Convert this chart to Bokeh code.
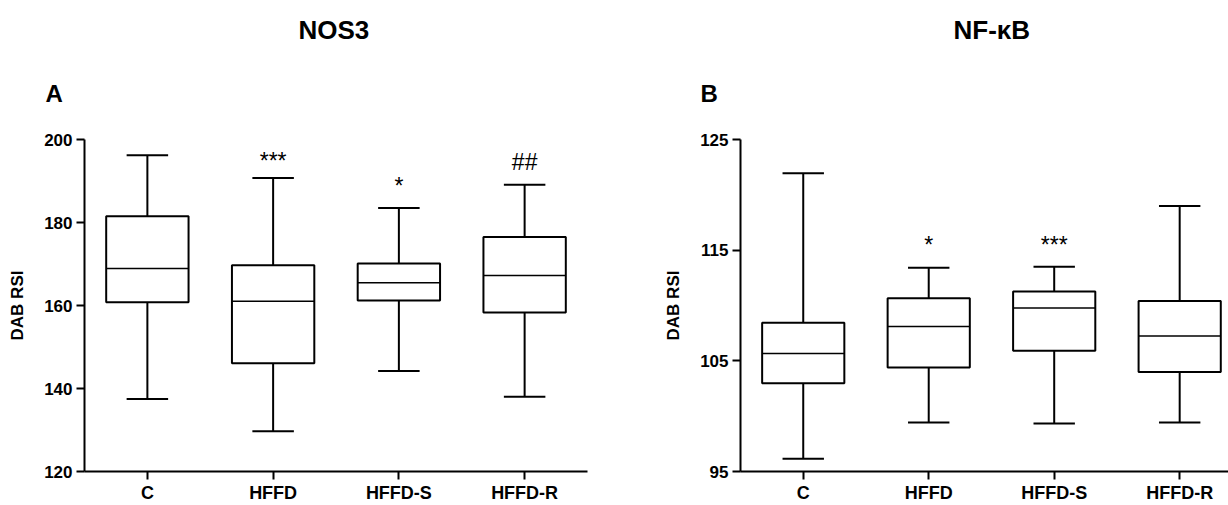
from bokeh.plotting import figure
from bokeh.models import Range1d, FixedTicker, Title, ColumnDataSource
from bokeh.layouts import row
from bokeh.embed import file_html
from bokeh.resources import INLINE
from bokeh.core.properties import value

groups = ["C", "HFFD", "HFFD-S", "HFFD-R"]

# NOS3 (panel A)
nos3_min = [137.5, 129.7, 144.2, 138.0]
nos3_q1 = [160.8, 146.1, 161.2, 158.3]
nos3_med = [168.9, 161.0, 165.5, 167.2]
nos3_q3 = [181.5, 169.7, 170.1, 176.5]
nos3_max = [196.2, 190.7, 183.5, 189.1]
nos3_sig = ["", "***", "*", "##"]
nos3_sig_y = [0, 194.7, 188.7, 194.5]
nos3_ticks = [120, 140, 160, 180, 200]

# NF-kB (panel B)
nfkb_min = [96.15, 99.42, 99.33, 99.42]
nfkb_q1 = [102.97, 104.4, 105.9, 104.0]
nfkb_med = [105.67, 108.1, 109.77, 107.25]
nfkb_q3 = [108.45, 110.66, 111.27, 110.4]
nfkb_max = [121.95, 113.4, 113.5, 119.0]
nfkb_sig = ["", "*", "***", ""]
nfkb_sig_y = [0, 115.45, 115.5, 0]
nfkb_ticks = [95, 105, 115, 125]

FONT = "Liberation Sans"
BOX_W = 0.655
CAP_W = 0.33


def panel(title, letter, mins, q1, med, q3, maxs, sig, sig_y, ticks,
          width, border_left, border_right, x_end, title_off, letter_off):
    p = figure(width=width, height=505, output_backend="svg", toolbar_location=None,
               x_range=Range1d(0.5, x_end), y_range=Range1d(ticks[0], ticks[-1]),
               min_border_left=border_left, min_border_right=border_right,
               min_border_top=139, min_border_bottom=32)
    p.outline_line_color = None
    p.grid.visible = False
    p.background_fill_color = "white"
    p.border_fill_color = "white"

    xs = [i + 1 for i in range(len(groups))]
    src = ColumnDataSource(dict(
        x=xs, mn=mins, q1=q1, med=med, q3=q3, mx=maxs,
        bl=[x - BOX_W / 2 for x in xs], br=[x + BOX_W / 2 for x in xs],
        cl=[x - CAP_W / 2 for x in xs], cr=[x + CAP_W / 2 for x in xs],
    ))
    p.segment("x", "q3", "x", "mx", source=src, line_color="black", line_width=2)
    p.segment("x", "mn", "x", "q1", source=src, line_color="black", line_width=2)
    p.segment("cl", "mx", "cr", "mx", source=src, line_color="black", line_width=2)
    p.segment("cl", "mn", "cr", "mn", source=src, line_color="black", line_width=2)
    p.vbar(x="x", width=BOX_W, bottom="q1", top="q3", source=src,
           fill_color="white", line_color="black", line_width=2)
    p.segment("bl", "med", "br", "med", source=src, line_color="black", line_width=1.5)

    sx = [xs[i] for i in range(len(xs)) if sig[i]]
    sy = [sig_y[i] for i in range(len(xs)) if sig[i]]
    st = [sig[i] for i in range(len(xs)) if sig[i]]
    p.text(x=sx, y=sy, text=st, text_align="center", text_baseline="alphabetic",
           text_font=value(FONT), text_font_size="23px", text_color="black")

    for ax in (p.xaxis, p.yaxis):
        ax.axis_line_width = 2
        ax.axis_line_color = "black"
        ax.major_tick_line_width = 2
        ax.major_tick_line_color = "black"
        ax.major_tick_out = 8
        ax.major_tick_in = 0
        ax.minor_tick_line_color = None
        ax.major_label_text_font = FONT
        ax.major_label_text_font_style = "bold"
        ax.major_label_text_color = "black"

    p.xaxis.ticker = FixedTicker(ticks=xs)
    p.xaxis.major_label_overrides = {x: g for x, g in zip(xs, groups)}
    p.xaxis.major_label_text_font_size = "18px"
    p.xaxis.major_label_standoff = 3

    p.yaxis.ticker = FixedTicker(ticks=ticks)
    p.yaxis.major_label_text_font_size = "17px"
    p.yaxis.major_label_standoff = 4
    p.yaxis.axis_label = "DAB RSI"
    p.yaxis.axis_label_text_font = FONT
    p.yaxis.axis_label_text_font_style = "bold"
    p.yaxis.axis_label_text_font_size = "17px"
    p.yaxis.axis_label_text_color = "black"
    p.yaxis.axis_label_standoff = 14

    p.add_layout(Title(text=letter, align="left", offset=letter_off, standoff=66,
                       text_font=FONT, text_font_style="bold", text_font_size="24px",
                       text_color="black"), "above")
    p.title.text = title
    p.title.align = "left"
    p.title.offset = title_off
    p.title.standoff = 0
    p.title.text_font = FONT
    p.title.text_font_style = "bold"
    p.title.text_font_size = "26px"
    p.title.text_color = "black"
    return p


left = panel("NOS3", "A", nos3_min, nos3_q1, nos3_med, nos3_q3, nos3_max,
             nos3_sig, nos3_sig_y, nos3_ticks,
             width=640, border_left=84, border_right=53, x_end=4.5,
             title_off=214, letter_off=-39)
right = panel("NF-\u03baB", "B", nfkb_min, nfkb_q1, nfkb_med, nfkb_q3, nfkb_max,
              nfkb_sig, nfkb_sig_y, nfkb_ticks,
              width=588, border_left=100, border_right=0, x_end=4.389,
              title_off=213, letter_off=-40)

layout = row(left, right)
open("out.html", "w").write(file_html(layout, INLINE))
